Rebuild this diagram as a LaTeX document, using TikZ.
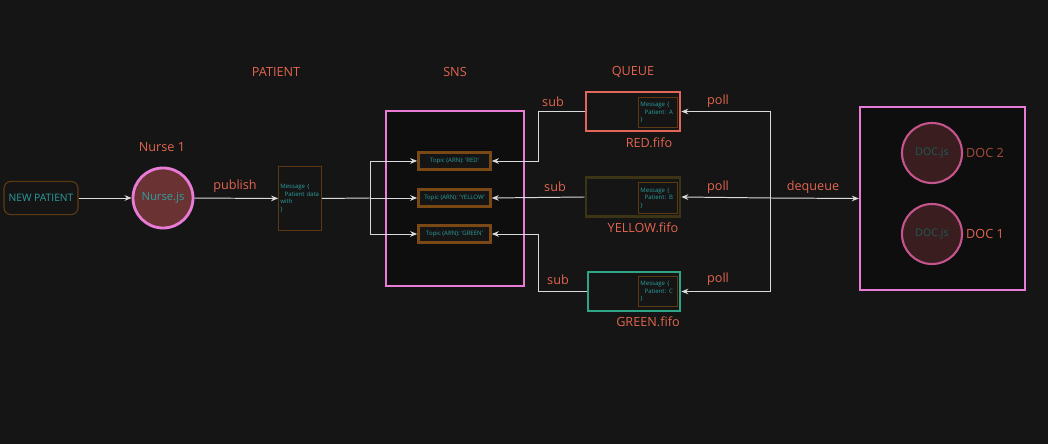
\documentclass[tikz,border=0pt]{standalone}
\usepackage{fontspec}
\setmainfont{Open Sans}
\usetikzlibrary{arrows.meta,positioning}

\definecolor{bg}{HTML}{151515}
\definecolor{inner}{HTML}{0E0E0E}
\definecolor{salmon}{HTML}{E2654F}
\definecolor{dimsalmon}{HTML}{A84B3B}
\definecolor{teal}{HTML}{2E9E9E}
\definecolor{dimteal}{HTML}{1F5A5A}
\definecolor{brownline}{HTML}{5C3A12}
\definecolor{topicline}{HTML}{7A4815}
\definecolor{pinkline}{HTML}{E77BD6}
\definecolor{nursefill}{HTML}{6A3232}
\definecolor{docfill}{HTML}{3A1D1E}
\definecolor{docline}{HTML}{C4558C}
\definecolor{redq}{HTML}{E0675A}
\definecolor{yellowq}{HTML}{3B3516}
\definecolor{greenq}{HTML}{2FA586}
\definecolor{wire}{HTML}{DADADA}

\tikzset{
  lbl/.style={text=salmon,font=\fontsize{9}{11}\selectfont,inner sep=0pt},
  conn/.style={draw=wire,line width=0.7pt,-{Stealth[length=5pt,width=4pt]}},
  wireline/.style={draw=wire,line width=0.7pt},
  tiny/.style={text=teal,font=\fontsize{4.3}{5.4}\selectfont,align=left},
  msgbox/.style={draw=brownline,line width=0.8pt,fill=bg,tiny,text width=1cm,inner sep=1.2pt},
  topicbox/.style={draw=topicline,line width=1.8pt,fill=bg,tiny,minimum width=1.8cm,minimum height=0.42cm,inner sep=0pt},
  queuebox/.style={line width=1.8pt,fill=bg,minimum width=2.35cm,minimum height=0.97cm},
  groupbox/.style={draw=pinkline,line width=1.6pt,fill=inner},
  docnode/.style={circle,draw=docline,line width=1.5pt,fill=docfill,minimum size=1.5cm,text=dimteal,font=\fontsize{7.5}{9}\selectfont}
}

\begin{document}
\begin{tikzpicture}[x=0.025cm,y=-0.025cm]
\fill[bg] (0,0) rectangle (1048,444);
\useasboundingbox (0,0) rectangle (1048,444);

% group boxes
\node[groupbox,minimum width=3.45cm,minimum height=4.375cm] (sns) at (455,198.5) {};
\node[groupbox,minimum width=4.125cm,minimum height=4.575cm] (docs) at (942.5,198.5) {};

% column titles
\node[lbl] (patientlbl) at (276,72) {PATIENT};
\node[lbl] (snslbl) at (455,72) {SNS};
\node[lbl] (queuelbl) at (633,72) {QUEUE};

% nurse side
\node[draw=brownline,line width=0.8pt,rounded corners=5pt,minimum width=1.8cm,minimum height=0.83cm,text=teal,font=\fontsize{7.3}{8}\selectfont] (new) at (41,198) {NEW PATIENT};
\node[circle,draw=pinkline,line width=2pt,fill=nursefill,minimum size=1.5cm,text=teal,font=\fontsize{8}{9}\selectfont] (nurse) at (163,198) {Nurse.js};
\node[lbl] (nurselbl) at (162,147) {Nurse 1};
\node[msgbox,minimum height=1.62cm,text width=0.98cm] (patmsg) at (300,198.5) {Message \{\\\hspace*{3pt}Patient data\\with\\\}};

% topics
\node[topicbox] (tred) at (454.5,161) {Topic (ARN): 'RED'};
\node[topicbox] (tyellow) at (454.5,198) {Topic (ARN): 'YELLOW'};
\node[topicbox] (tgreen) at (454.5,234) {Topic (ARN): 'GREEN'};

% queues
\node[queuebox,draw=redq] (qred) at (633,111.5) {};
\node[queuebox,draw=yellowq] (qyellow) at (633,197) {};
\node[queuebox,draw=greenq,minimum width=2.3cm] (qgreen) at (634,291.5) {};
\node[msgbox,text width=0.88cm,minimum height=0.77cm] (mred) at (658,112.5) {Message \{\\\hspace*{3pt}Patient: A\\\}};
\node[msgbox,text width=0.88cm,minimum height=0.77cm] (myellow) at (658,198) {Message \{\\\hspace*{3pt}Patient: B\\\}};
\node[msgbox,text width=0.88cm,minimum height=0.77cm] (mgreen) at (658,291.5) {Message \{\\\hspace*{3pt}Patient: C\\\}};
\node[lbl] (redlbl) at (649,143) {RED.fifo};
\node[lbl] (yellowlbl) at (643,228) {YELLOW.fifo};
\node[lbl] (greenlbl) at (648,322) {GREEN.fifo};

% doctors
\node[docnode] (doc2) at (932,153) {DOC.js};
\node[docnode] (doc1) at (932,234) {DOC.js};
\node[lbl,text=dimsalmon] (doc2lbl) at (985,153) {DOC 2};
\node[lbl] (doc1lbl) at (985,234) {DOC 1};

% connectors
\coordinate (fan) at (370,198);
\coordinate (hub) at (770,198);
\draw[conn] (new) -- (nurse);
\draw[conn] (nurse) -- (patmsg);
\node[lbl] (publishlbl) at (235,186) {publish};
\draw[wireline] (patmsg.east) -- (fan);
\draw[conn] (fan) |- (tred.west);
\draw[conn] (fan) -- (tyellow.west);
\draw[conn] (fan) |- (tgreen.west);

\draw[conn] (qred.west) -- ++(-46,0) |- (tred.east);
\draw[conn] (qyellow.west) -- (tyellow.east);
\draw[conn] (qgreen.west) -- ++(-48,0) |- (tgreen.east);
\node[lbl] (sub1) at (553,102) {sub};
\node[lbl] (sub2) at (555,187) {sub};
\node[lbl] (sub3) at (558,280) {sub};

\draw[conn] (hub) |- (qred.east);
\draw[conn] (hub) -- (qyellow.east);
\draw[conn] (hub) |- (qgreen.east);
\draw[conn] (hub) -- (docs.west);
\node[lbl] (poll1) at (718,101) {poll};
\node[lbl] (poll2) at (718,187) {poll};
\node[lbl] (poll3) at (718,279) {poll};
\node[lbl] (dequeuelbl) at (813,187) {dequeue};
\end{tikzpicture}
\end{document}
